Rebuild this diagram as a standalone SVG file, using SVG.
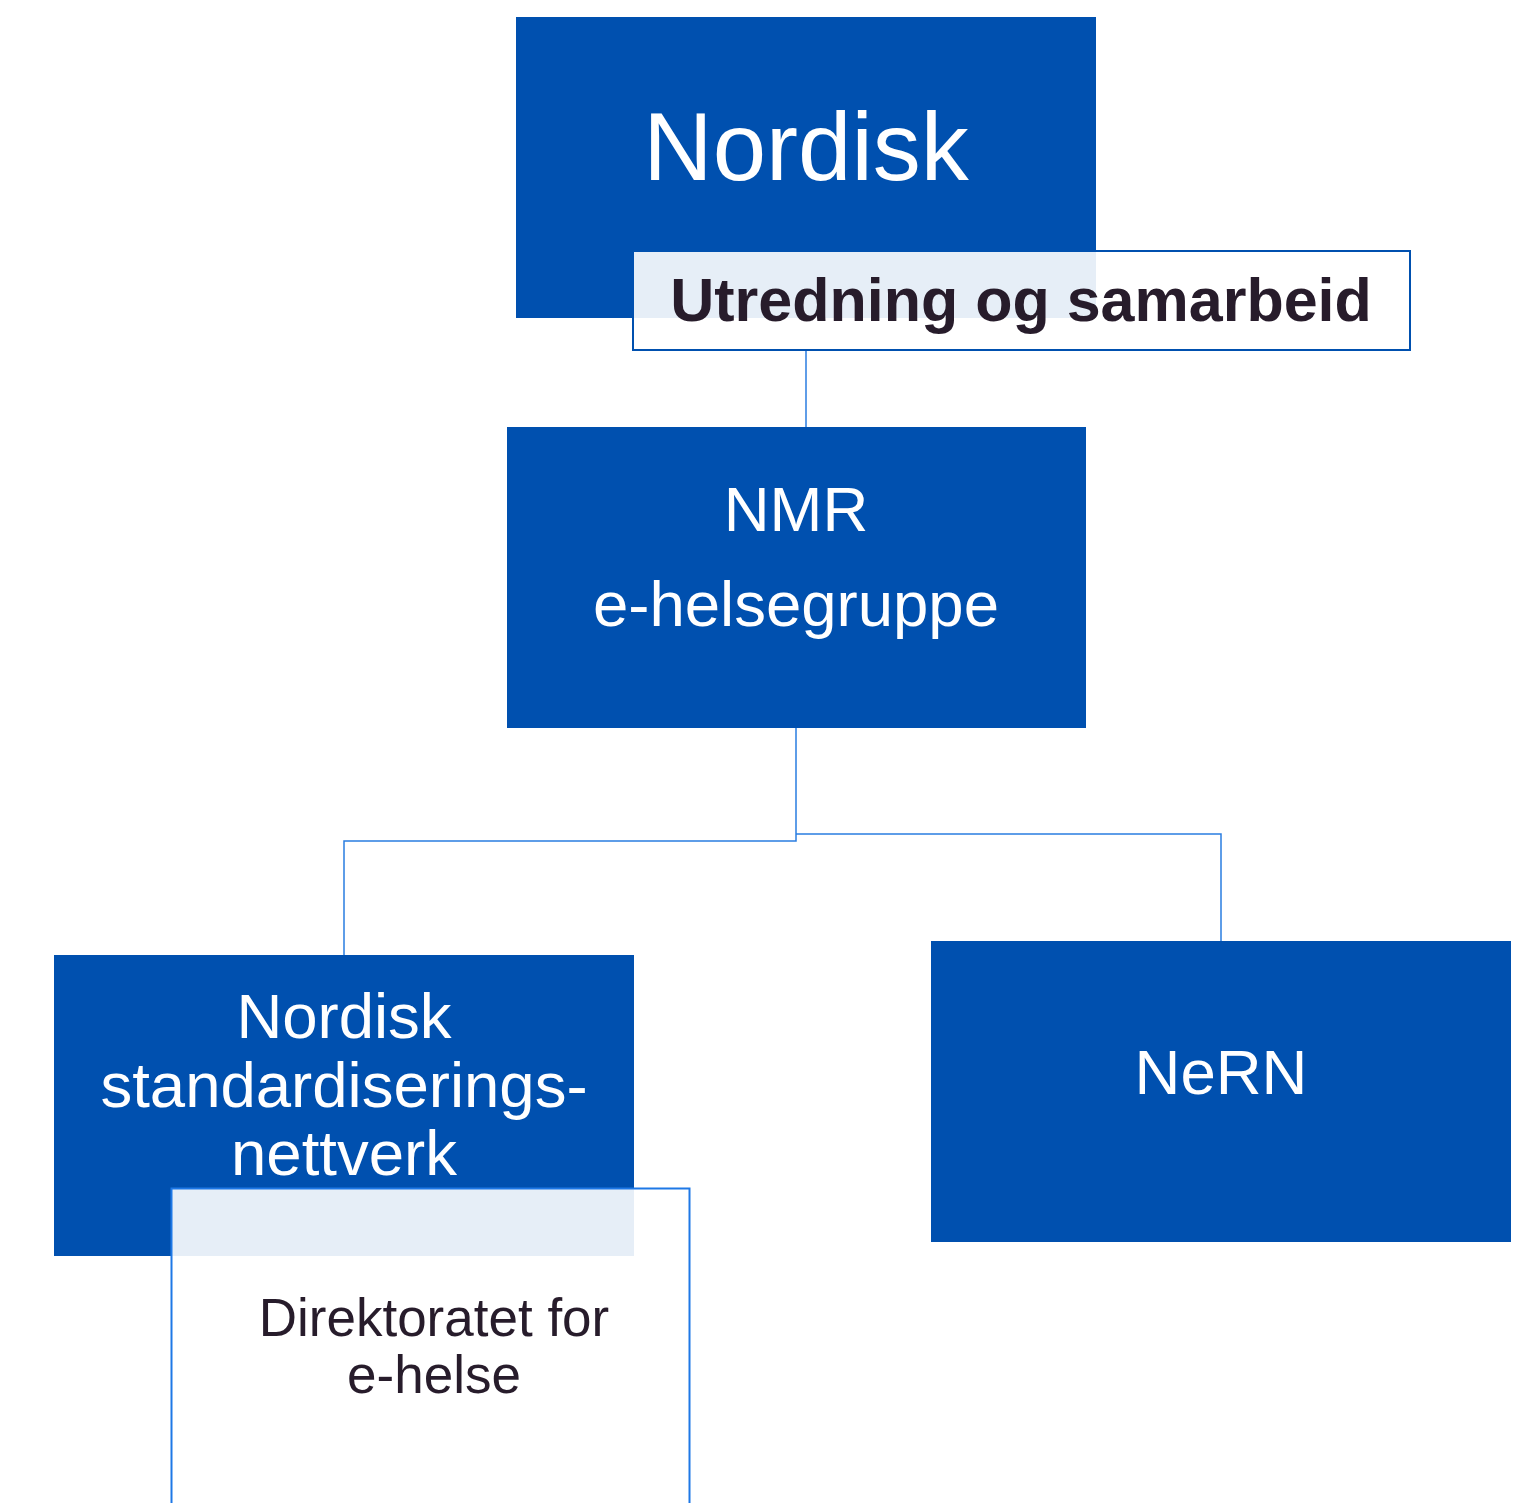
<svg xmlns="http://www.w3.org/2000/svg" width="1537" height="1503" viewBox="0 0 1537 1503">
<style>
.node{fill:#0050AF}
.lbl{fill:#FFFFFF;fill-opacity:0.9}
.wt{fill:#FFFFFF;font-family:"Liberation Sans",Arial,sans-serif;text-anchor:middle}
.dk{fill:#271C2B;font-family:"Liberation Sans",Arial,sans-serif;text-anchor:middle}
.conn{fill:none;stroke:#2A7DE1;stroke-width:1.5}
</style>
<rect width="1537" height="1503" fill="#FFFFFF"/>
<g id="connectors">
<path class="conn" d="M806 350V427"/>
<path class="conn" d="M796 728V841H344V955"/>
<path class="conn" d="M796 834H1221V941"/>
</g>
<g id="node-nordisk">
<rect class="node" x="516" y="17" width="580" height="301"/>
<text class="wt" x="806" y="180" font-size="96">Nordisk</text>
</g>
<g id="label-utredning">
<rect class="lbl" x="633" y="251" width="777" height="99" stroke="#0050AF" stroke-width="2"/>
<text class="dk" x="1021" y="321" font-size="61" font-weight="bold">Utredning og samarbeid</text>
</g>
<g id="node-nmr">
<rect class="node" x="507" y="427" width="579" height="301"/>
<text class="wt" x="796" y="531" font-size="63.5">NMR</text>
<text class="wt" x="796" y="626" font-size="63.5">e-helsegruppe</text>
</g>
<g id="node-nsn">
<rect class="node" x="54" y="955" width="580" height="301"/>
<text class="wt" x="344" y="1038" font-size="63.5">Nordisk</text>
<text class="wt" x="344" y="1107" font-size="63.5">standardiserings-</text>
<text class="wt" x="344" y="1175" font-size="63.5">nettverk</text>
</g>
<g id="label-direktoratet">
<rect class="lbl" x="171.5" y="1188.5" width="518" height="330" stroke="#1E78E6" stroke-width="2"/>
<text class="dk" x="434" y="1336" font-size="53">Direktoratet for</text>
<text class="dk" x="434" y="1393" font-size="53">e-helse</text>
</g>
<g id="node-nern">
<rect class="node" x="931" y="941" width="580" height="301"/>
<text class="wt" x="1221" y="1094" font-size="63.5">NeRN</text>
</g>
</svg>
